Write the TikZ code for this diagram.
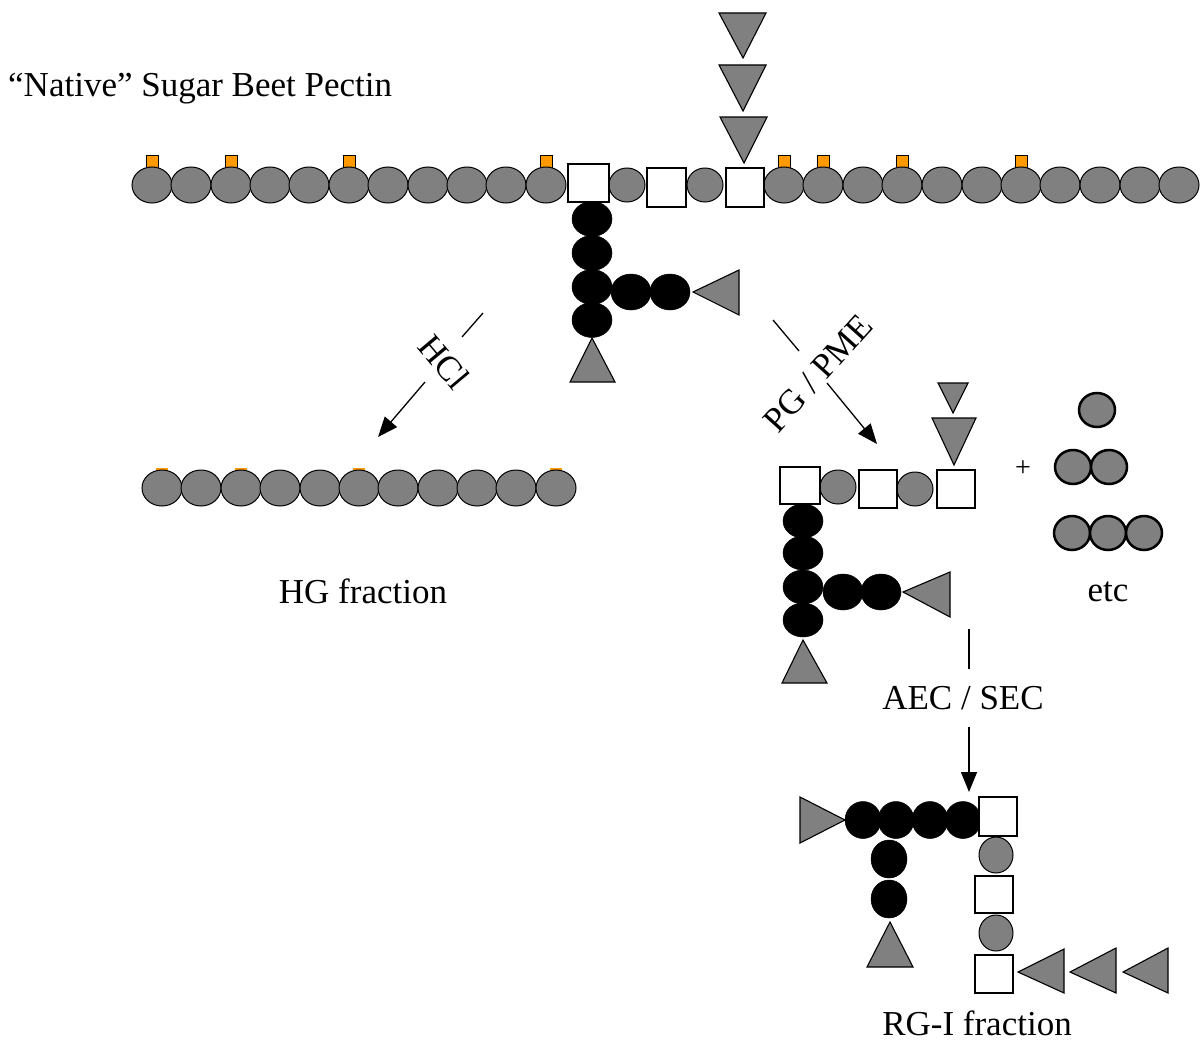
\documentclass[tikz,border=0pt]{standalone}
\usepackage{fontspec}
\setmainfont{Liberation Serif}
\usetikzlibrary{arrows.meta}
\definecolor{gfill}{RGB}{128,128,128}
\definecolor{orangeF}{RGB}{255,153,0}
\tikzset{
 gcirc/.style={fill=gfill, draw=black, line width=1pt},
 bcirc/.style={fill=black, draw=black, line width=0.5pt},
 wsq/.style={fill=white, draw=black, line width=1.1pt},
 tri/.style={fill=gfill, draw=black, line width=1.1pt, line join=miter},
 orng/.style={fill=orangeF, draw=black, line width=0.8pt},
 fcirc/.style={fill=gfill, draw=black, line width=2.5pt},
 lbl/.style={font=\fontsize{35}{40}\selectfont, inner sep=0pt},
 conn/.style={line width=1.3pt},
 arr/.style={line width=1.3pt, -{Triangle[length=20pt,width=16pt]}}
}
\begin{document}
\begin{tikzpicture}[x=1pt,y=-1pt]
\useasboundingbox (0,0) rectangle (1204,1041);
\fill[white] (0,0) rectangle (1204,1041);

% ---------- title
\node[lbl, anchor=west] (title) at (8,89) {``Native'' Sugar Beet Pectin};

% ---------- top chain
\foreach \x in {152,231,349,546,784,823,902,1021}
  \draw[orng] (\x-6,155) rectangle (\x+6,170);
\foreach \x in {152,191,231,270,309,349,388,428,467,506,546,784,823,863,902,942,982,1021,1060,1100,1140,1179}
  \draw[gcirc] (\x,185) ellipse [x radius=20, y radius=18];
\foreach \x in {627,705}
  \draw[gcirc] (\x,185) ellipse [x radius=18, y radius=17];
% branch (black)
\foreach \y in {219,253,287,320}
  \draw[bcirc] (592,\y) ellipse [x radius=20, y radius=17.5];
\foreach \x in {631,670}
  \draw[bcirc] (\x,292) ellipse [x radius=20, y radius=18];
\draw[wsq] (568,164) rectangle (609,202);
\draw[wsq] (647,168) rectangle (686,207);
\draw[wsq] (726,168) rectangle (764,207);
% triangles
\draw[tri] (719,13) -- (766,13) -- (743,58) -- cycle;
\draw[tri] (719,65) -- (766,65) -- (743,111) -- cycle;
\draw[tri] (720,117) -- (767,117) -- (744,163) -- cycle;
\draw[tri] (693,292) -- (739,270) -- (739,315) -- cycle;
\draw[tri] (592,338) -- (615,382) -- (570,382) -- cycle;

% ---------- HCl arrow
\coordinate (hclA) at (483,313);
\coordinate (hclB) at (462,337);
\coordinate (hclC) at (425,382);
\coordinate (hclD) at (378,437);
\draw[conn] (hclA) -- (hclB);
\node[lbl, rotate=-50] (hcl) at (444,362) {HCl};
\draw[arr] (hclC) -- (hclD);

% ---------- HG fraction
\foreach \x in {162,241,359,556}
  \fill[orangeF] (\x-6,468) rectangle (\x+6,480);
\foreach \x in {162,201,241,280,320,359,398,438,477,516,556}
  \draw[gcirc] (\x,488) ellipse [x radius=20, y radius=18];
\node[lbl] (hg) at (363,591) {HG fraction};

% ---------- PG / PME arrow
\coordinate (pgA) at (773,320);
\coordinate (pgB) at (799,351);
\coordinate (pgC) at (827,383);
\coordinate (pgD) at (877,444);
\draw[conn] (pgA) -- (pgB);
\node[lbl, rotate=48] (pg) at (818,373) {PG / PME};
\draw[arr] (pgC) -- (pgD);

% ---------- middle product
\foreach \y in {521,553,587,620}
  \draw[bcirc] (803,\y) ellipse [x radius=20, y radius=17];
\foreach \x in {843,881}
  \draw[bcirc] (\x,592) ellipse [x radius=20, y radius=18];
\draw[gcirc] (838,487) ellipse [x radius=18, y radius=17];
\draw[gcirc] (915,489) ellipse [x radius=18, y radius=17];
\draw[wsq] (780,467) rectangle (820,504);
\draw[wsq] (859,470) rectangle (897,508);
\draw[wsq] (937,470) rectangle (975,508);
\draw[tri] (938,383) -- (968,383) -- (953,413) -- cycle;
\draw[tri] (932,418) -- (976,418) -- (954,465) -- cycle;
\draw[tri] (903,592) -- (950,572) -- (950,617) -- cycle;
\draw[tri] (803,640) -- (827,683) -- (782,683) -- cycle;

\node[font=\fontsize{28}{30}\selectfont, inner sep=0pt] (plus) at (1023,469) {+};
\draw[fcirc] (1097,410) ellipse [x radius=18, y radius=17];
\draw[fcirc] (1073,467) ellipse [x radius=18, y radius=17];
\draw[fcirc] (1109,467) ellipse [x radius=18, y radius=17];
\draw[fcirc] (1072,533) ellipse [x radius=18, y radius=17];
\draw[fcirc] (1108,533) ellipse [x radius=18, y radius=17];
\draw[fcirc] (1144,533) ellipse [x radius=18, y radius=17];
\node[lbl] (etc) at (1108,592) {etc};

% ---------- AEC / SEC arrow
\coordinate (aeA) at (969,629);
\coordinate (aeB) at (969,669);
\coordinate (aeC) at (969,727);
\coordinate (aeD) at (969,792);
\draw[conn] (aeA) -- (aeB);
\node[lbl] (aec) at (963,698) {AEC / SEC};
\draw[arr] (aeC) -- (aeD);

% ---------- RG-I fraction
\foreach \x in {863,896,930,963}
  \draw[bcirc] (\x,820) ellipse [x radius=18, y radius=18.5];
\foreach \y in {859,899}
  \draw[bcirc] (889,\y) ellipse [x radius=18, y radius=19];
\draw[tri] (845,820) -- (800,797) -- (800,843) -- cycle;
\draw[tri] (890,922) -- (913,967) -- (867,967) -- cycle;
\draw[gcirc] (996,855) ellipse [x radius=17, y radius=18];
\draw[gcirc] (996,933) ellipse [x radius=17, y radius=18];
\draw[wsq] (979,797) rectangle (1017,836);
\draw[wsq] (975,876) rectangle (1013,913);
\draw[wsq] (975,955) rectangle (1013,993);
\draw[tri] (1018,972) -- (1064,949) -- (1064,993) -- cycle;
\draw[tri] (1070,972) -- (1116,948) -- (1116,993) -- cycle;
\draw[tri] (1123,972) -- (1168,948) -- (1168,993) -- cycle;
\node[lbl] (rg) at (977,1023) {RG-I fraction};
\end{tikzpicture}
\end{document}
